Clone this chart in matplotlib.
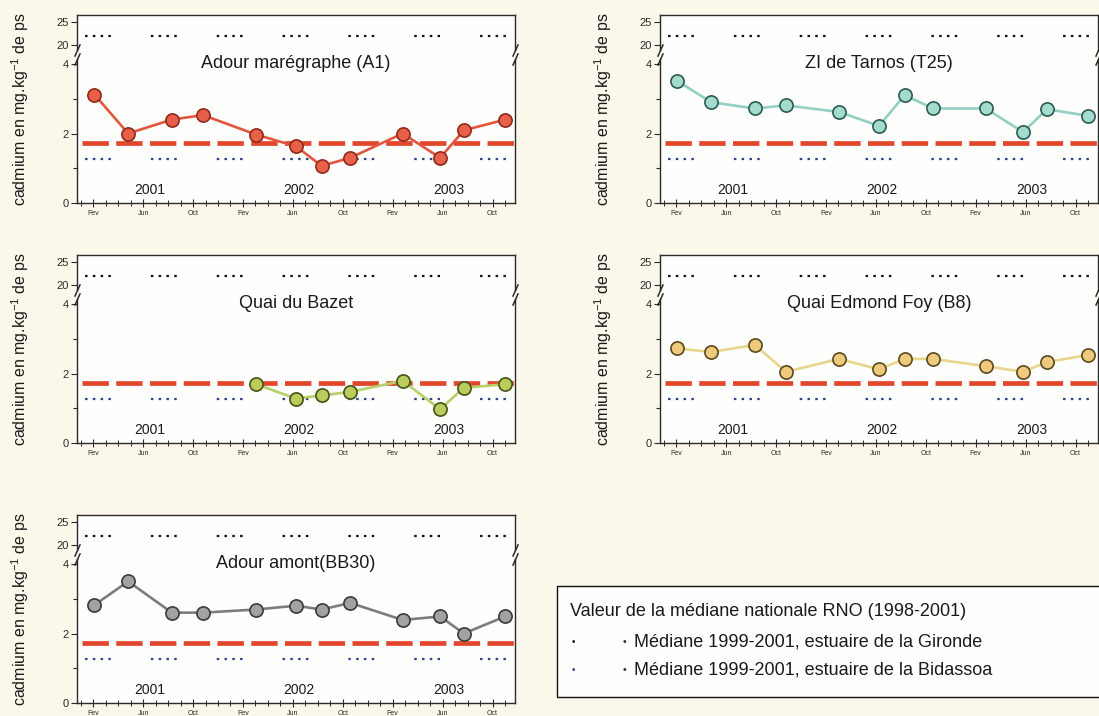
import matplotlib
matplotlib.use('Agg')
import numpy as np
import matplotlib.pyplot as plt
from matplotlib.patches import Rectangle
from matplotlib.ticker import FixedLocator, NullFormatter, FixedFormatter

plt.rcParams['font.family'] = ['Liberation Sans', 'DejaVu Sans']
plt.rcParams['lines.scale_dashes'] = False

W, H = 1099, 716

# ---------------- data ----------------
sample_months = [1.1, 3.8, 7.3, 9.8, 14.05, 17.25, 19.3, 21.6, 25.8, 28.8, 30.7, 34.0]
month_tick_pos = [1, 5, 9, 13, 17, 21, 25, 29, 33]
month_tick_labels = ['Fev', 'Jun', 'Oct'] * 3
year_labels = ['2001', '2002', '2003']
year_pos = [5.5, 17.5, 29.5]

titles = ['Adour marégraphe (A1)', 'ZI de Tarnos (T25)', 'Quai du Bazet',
          'Quai Edmond Foy (B8)', 'Adour amont(BB30)']
a1_values = [3.12, 2.00, 2.40, 2.53, 1.97, 1.63, 1.07, 1.30, 2.00, 1.30, 2.09, 2.40]
t25_values = [3.51, 2.90, 2.72, 2.81, 2.62, 2.22, 3.10, 2.72, 2.72, 2.04, 2.70, 2.51]
bazet_values = [np.nan, np.nan, np.nan, np.nan, 1.69, 1.28, 1.37, 1.47, 1.79, 0.97, 1.59, 1.69]
b8_values = [2.72, 2.62, 2.82, 2.05, 2.42, 2.12, 2.42, 2.42, 2.21, 2.05, 2.33, 2.53]
bb30_values = [2.82, 3.50, 2.60, 2.60, 2.69, 2.80, 2.69, 2.88, 2.39, 2.49, 2.00, 2.49]

rno_median = 1.72
gironde_median = 22.0
bidassoa_median = 1.27

legend_title = 'Valeur de la médiane nationale RNO (1998-2001)'
legend_items = ['Médiane 1999-2001, estuaire de la Gironde',
                'Médiane 1999-2001, estuaire de la Bidassoa']

# ---------------- styling ----------------
series = [a1_values, t25_values, bazet_values, b8_values, bb30_values]
fills = ['#e9604a', '#a3dbcf', '#b9cc5c', '#f0ca7c', '#a2a2a2']
edges = ['#8e2a1a', '#2d5a50', '#44521a', '#5a4820', '#3a3a3a']
lines = ['#e4553e', '#93cfc2', '#b6cf6a', '#ead58c', '#7c7c7c']
panel_pos = [(77, 15), (660, 15), (77, 255), (660, 255), (77, 515)]
PW, PH = 438, 188
UP_H = 35
LO_TOP = 44
XLIM = (-0.3, 34.8)
SPINE = '#2a2a2a'
bg = '#fbf7ea'

fig = plt.figure(figsize=(W / 100, H / 100), dpi=100, facecolor=bg)


def rect(left, top, width, height):
    return [left / W, 1 - (top + height) / H, width / W, height / H]


dot_style = (41.6, (1.8, 3.8, 1.8, 3.8, 1.8, 3.8, 1.8, 28.8))
red_style = (20.7, (19.0, 5.3))
brk = dict(marker=[(-0.45, -1), (0.45, 1)], markersize=9, linestyle='none',
           color=SPINE, mec=SPINE, mew=1.1, clip_on=False)

for (left, top), title, vals, fc, ec, lc in zip(panel_pos, titles, series, fills, edges, lines):
    fig.add_artist(Rectangle((left / W, 1 - (top + PH) / H), PW / W, PH / H,
                             transform=fig.transFigure, facecolor='#fefefc',
                             edgecolor='none', zorder=-1))
    ax_up = fig.add_axes(rect(left, top, PW, UP_H))
    ax_lo = fig.add_axes(rect(left, top + LO_TOP, PW, PH - LO_TOP))
    for ax in (ax_up, ax_lo):
        ax.set_facecolor('none')
        ax.set_xlim(*XLIM)
        for s in ax.spines.values():
            s.set_color(SPINE)
            s.set_linewidth(1.0)
        ax.tick_params(axis='y', direction='out', length=4, width=0.8,
                       labelsize=8, colors=SPINE, pad=2)
        ax.tick_params(axis='y', which='minor', direction='out', length=3, width=0.8, colors=SPINE)

    # upper segment
    ax_up.spines['bottom'].set_visible(False)
    ax_up.set_ylim(18.91, 26.52)
    ax_up.set_yticks([20, 25])
    ax_up.tick_params(axis='x', which='both', bottom=False, labelbottom=False)
    ax_up.axhline(gironde_median, color='#111111', lw=1.6, linestyle=dot_style)

    # lower segment
    ax_lo.spines['top'].set_visible(False)
    ax_lo.set_ylim(0, 4.144)
    ax_lo.set_yticks([0, 2, 4])
    ax_lo.yaxis.set_minor_locator(FixedLocator([1, 3]))
    ax_lo.xaxis.set_major_locator(FixedLocator(month_tick_pos))
    ax_lo.xaxis.set_major_formatter(FixedFormatter(month_tick_labels))
    ax_lo.xaxis.set_minor_locator(FixedLocator(np.arange(0, 35)))
    ax_lo.xaxis.set_minor_formatter(NullFormatter())
    ax_lo.tick_params(axis='x', which='major', direction='inout', length=6, width=0.8,
                      labelsize=5, colors=SPINE, pad=2)
    ax_lo.tick_params(axis='x', which='minor', direction='inout', length=4, width=0.7,
                      colors=SPINE)

    ax_lo.axhline(bidassoa_median, color='#2a4590', lw=1.6, linestyle=dot_style, zorder=2)
    ax_lo.axhline(rno_median, color='#e2462c', lw=3.4, linestyle=red_style,
                  solid_capstyle='butt', zorder=2.5)
    ax_lo.plot(sample_months, vals, color=lc, lw=1.9, marker='o', ms=9.5,
               mfc=fc, mec=ec, mew=1.2, zorder=4)

    ax_lo.text(0.5, 1 - 4 / (PH - LO_TOP), title, transform=ax_lo.transAxes,
               ha='center', va='center', fontsize=13, color='#1a1a1a')
    for yp, yl in zip(year_pos, year_labels):
        ax_lo.text(yp, 0.36, yl, ha='center', va='center', fontsize=10, color='#1a1a1a')

    # axis break marks
    ax_up.plot([0, 1], [0, 0], transform=ax_up.transAxes, **brk)
    ax_lo.plot([0, 1], [1, 1], transform=ax_lo.transAxes, **brk)

    fig.text((left - 57) / W, 1 - (top + 94) / H, 'cadmium en mg.kg$^{\\mathregular{-1}}$ de ps',
             rotation=90, ha='center', va='center', fontsize=11.5, color='#1a1a1a')

# legend box
fig.add_artist(Rectangle((557 / W, 1 - 697 / H), 560 / W, 111 / H, transform=fig.transFigure,
                         facecolor='#fefefc', edgecolor='#111111', lw=1.0, zorder=1))
fig.text(570 / W, 1 - 612 / H, legend_title, ha='left', va='center', fontsize=13,
         color='#1a1a1a', zorder=2)
for i, (item, bc) in enumerate(zip(legend_items, ['#111111', '#2a4590'])):
    yy = 1 - (642 + 28 * i) / H
    fig.text(573 / W, yy, '\u2022', ha='center', va='center', fontsize=7, color=bc, zorder=2)
    fig.text(624 / W, yy, '\u2022', ha='center', va='center', fontsize=7.5, color='#333333', zorder=2)
    fig.text(634 / W, yy, item, ha='left', va='center', fontsize=13, color='#1a1a1a', zorder=2)

fig.savefig('out.png', dpi=100, facecolor=bg)
